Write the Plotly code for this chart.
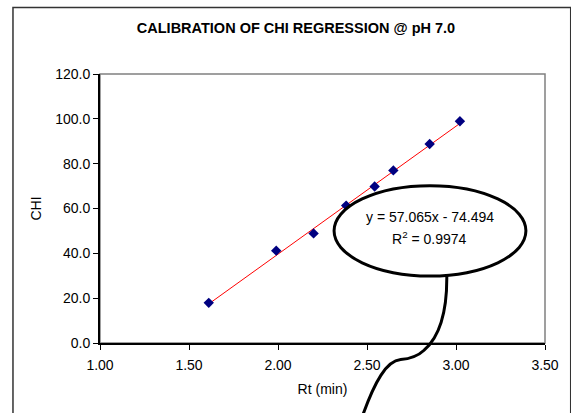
import numpy as np
import plotly.graph_objects as go

# Retention time (min) and CHI values of the calibration standards
rt_min = [1.611, 1.990, 2.200, 2.383, 2.543, 2.648, 2.852, 3.022]
chi = [17.9, 41.2, 48.9, 61.3, 69.8, 77.0, 88.8, 98.9]

# Linear fit reported on the chart
slope = 57.065
intercept = -74.494
r_squared = 0.9974

x_ticks = [1.0, 1.5, 2.0, 2.5, 3.0, 3.5]
y_ticks = [0, 20, 40, 60, 80, 100, 120]

W, H = 571, 413
ML, MR, MT, MB = 100, 21, 74, 70
PW, PH = W - ML - MR, H - MT - MB


def px_to_paper(px, py):
    return (px - ML) / PW, (H - MB - py) / PH


def path_from_px(commands):
    out = []
    for cmd, pts in commands:
        coords = " ".join(
            "{:.4f},{:.4f}".format(*px_to_paper(x, y)) for x, y in pts
        )
        out.append(f"{cmd} {coords}")
    return " ".join(out)


FONT = "Liberation Sans, Arial, sans-serif"

fit_x = np.array([min(rt_min), max(rt_min)])
fit_y = slope * fit_x + intercept

fig = go.Figure()
fig.add_trace(go.Scatter(
    x=fit_x, y=fit_y, mode="lines",
    line=dict(color="#ff0000", width=1),
    hoverinfo="skip", showlegend=False,
))
fig.add_trace(go.Scatter(
    x=rt_min, y=chi, mode="markers",
    marker=dict(symbol="diamond", color="#000080", size=8, line=dict(width=0)),
    showlegend=False,
))

shapes = []
# chart-area frame
x0, y0 = px_to_paper(12, 7.5)
x1, y1 = px_to_paper(W + 5, H + 5)
shapes.append(dict(type="rect", xref="paper", yref="paper",
                   x0=x0, y0=y1, x1=x1, y1=y0,
                   line=dict(color="#333333", width=1.5), layer="below"))
# plot-area frame
shapes.append(dict(type="rect", xref="paper", yref="paper",
                   x0=0, y0=0, x1=1, y1=1,
                   line=dict(color="#808080", width=1.5), layer="below"))

# callout bubble with the regression equation
ex0, ey0 = px_to_paper(336.7, 276)
ex1, ey1 = px_to_paper(530.7, 185.7)
shapes.append(dict(type="circle", xref="paper", yref="paper",
                   x0=ex0, y0=ey0, x1=ex1, y1=ey1,
                   line=dict(color="black", width=3),
                   fillcolor="white", layer="above"))
tail = path_from_px([
    ("M", [(450.7, 276)]),
    ("C", [(451, 310), (444, 336), (428, 350)]),
    ("C", [(420, 357.5), (411, 359), (404, 359.6)]),
    ("C", [(390, 361), (378, 380), (364, 420)]),
    ("L", [(356, 450)]),
])
shapes.append(dict(type="path", xref="paper", yref="paper", path=tail,
                   line=dict(color="black", width=3), layer="above"))

cx, _ = px_to_paper(433.5, 0)
_, ty1 = px_to_paper(0, 217)
_, ty2 = px_to_paper(0, 238)
annotations = [
    dict(xref="paper", yref="paper", x=cx, y=ty1, showarrow=False,
         xanchor="center", yanchor="middle",
         text=f"y = {slope:.3f}x - {abs(intercept):.3f}",
         font=dict(family=FONT, size=14, color="black")),
    dict(xref="paper", yref="paper", x=cx, y=ty2, showarrow=False,
         xanchor="center", yanchor="middle",
         text=f"R<sup>2</sup> = {r_squared:.4f}",
         font=dict(family=FONT, size=14, color="black")),
]

axis_common = dict(
    showgrid=False, zeroline=False, ticks="outside", ticklen=5,
    tickwidth=1, tickcolor="black", showline=True, linecolor="black",
    linewidth=2, tickfont=dict(family=FONT, size=14, color="black"),
    title_font=dict(family=FONT, size=14, color="black"),
)

fig.update_layout(
    width=W, height=H,
    margin=dict(l=ML, r=MR, t=MT, b=MB),
    paper_bgcolor="white", plot_bgcolor="white",
    title=dict(text="<b>CALIBRATION OF CHI REGRESSION @ pH 7.0</b>",
               x=296 / W, xanchor="center", xref="container",
               y=1 - 27.5 / H, yanchor="middle", yref="container",
               font=dict(family=FONT, size=14.5, color="black")),
    xaxis=dict(range=[1, 3.5], tickvals=x_ticks,
               ticktext=[f"{v:.2f}" for v in x_ticks],
               ticklabelstandoff=3,
               title=dict(text="Rt (min)", standoff=12), **axis_common),
    yaxis=dict(range=[0, 120], tickvals=y_ticks,
               ticktext=[f"{v:.1f}" for v in y_ticks],
               title=dict(text="CHI", standoff=10), **axis_common),
    shapes=shapes,
    annotations=annotations,
    showlegend=False,
)

fig.write_html("out.html")
